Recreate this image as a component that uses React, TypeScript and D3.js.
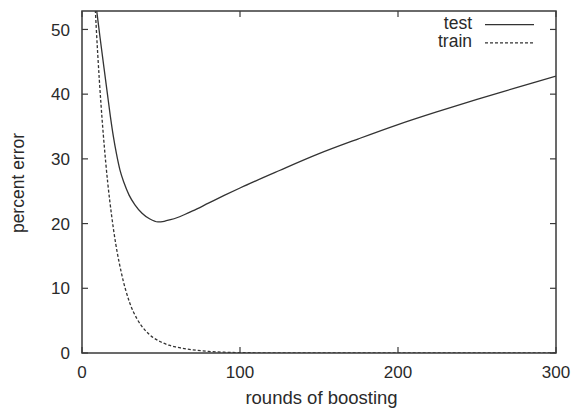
import React from "react";
import * as d3 from "d3";

// Boosting error curves: test and training error vs. number of rounds
const testRounds = [8, 9.3, 11.4, 13.9, 16.1, 18, 19.9, 21.8, 24, 26.6, 29.8, 33.5, 38, 43, 48, 52, 56, 60, 65, 70, 80, 90, 100, 125, 150, 175, 200, 225, 250, 275, 300];
const testError = [55.3, 52.9, 48.8, 44.1, 40.0, 36.5, 33.4, 30.8, 28.3, 26.3, 24.4, 22.9, 21.6, 20.7, 20.25, 20.35, 20.6, 20.9, 21.4, 21.95, 23.15, 24.35, 25.5, 28.2, 30.8, 33.1, 35.3, 37.3, 39.2, 41.0, 42.8];

const trainRounds = [5, 8, 10, 12, 15, 20, 25, 30, 35, 40, 45, 50, 55, 60, 70, 80, 90, 100, 120, 150, 200, 250, 300];
const trainError = [70, 55, 46, 38.5, 29.5, 19, 12.3, 7.9, 5.2, 3.5, 2.4, 1.7, 1.2, 0.9, 0.5, 0.25, 0.12, 0.06, 0.02, 0.01, 0, 0, 0];

const xTicks = [0, 100, 200, 300];
const yTicks = [0, 10, 20, 30, 40, 50];

const seriesNames = ["test", "train"];

const W = 574;
const H = 408;
const M = { left: 82, right: 556, top: 11, bottom: 353 };
const FONT = "'Liberation Sans', Arial, Helvetica, sans-serif";
const AXIS = "#3a3a3a";
const TEXT = "#2a2a2a";

export default function App() {
  const x = d3.scaleLinear().domain([0, 300]).range([M.left, M.right]);
  const y = d3.scaleLinear().domain([0, 52.85]).range([M.bottom, M.top]);

  const line = d3
    .line<[number, number]>()
    .x((d) => x(d[0]))
    .y((d) => y(d[1]))
    .curve(d3.curveMonotoneX);

  const testPath = line(testRounds.map((r, i) => [r, testError[i]]) as [number, number][]) || "";
  const trainPath = line(trainRounds.map((r, i) => [r, trainError[i]]) as [number, number][]) || "";

  const tick = 6;
  const tickFs = 17;
  const labelFs = 17.5;

  return (
    <svg
      width={W}
      height={H}
      style={{ position: "absolute", left: 0, top: 0, background: "#fff" }}
      fontFamily={FONT}
    >
      <defs>
        <clipPath id="plot-area">
          <rect x={M.left} y={M.top} width={M.right - M.left} height={M.bottom - M.top} />
        </clipPath>
      </defs>

      {/* ticks, mirrored on all four sides, pointing inward */}
      {yTicks.map((t) => (
        <g key={"y" + t}>
          <line x1={M.left} x2={M.left + tick} y1={y(t)} y2={y(t)} stroke={AXIS} strokeWidth={1.2} />
          <line x1={M.right} x2={M.right - tick} y1={y(t)} y2={y(t)} stroke={AXIS} strokeWidth={1.2} />
          <text x={70} y={y(t)} dy="0.36em" textAnchor="end" fontSize={tickFs} fill={TEXT}>
            {t}
          </text>
        </g>
      ))}
      {xTicks.map((t) => (
        <g key={"x" + t}>
          <line x1={x(t)} x2={x(t)} y1={M.bottom} y2={M.bottom - tick} stroke={AXIS} strokeWidth={1.2} />
          <line x1={x(t)} x2={x(t)} y1={M.top} y2={M.top + tick} stroke={AXIS} strokeWidth={1.2} />
          <text x={x(t)} y={377.5} textAnchor="middle" fontSize={tickFs} fill={TEXT}>
            {t}
          </text>
        </g>
      ))}

      {/* curves */}
      <g clipPath="url(#plot-area)">
        <path d={testPath} fill="none" stroke="#333" strokeWidth={1.3} />
        <path d={trainPath} fill="none" stroke="#333" strokeWidth={1.3} strokeDasharray="3,2" />
      </g>

      {/* frame */}
      <rect
        x={M.left}
        y={M.top}
        width={M.right - M.left}
        height={M.bottom - M.top}
        fill="none"
        stroke={AXIS}
        strokeWidth={1.5}
      />

      {/* legend */}
      {seriesNames.map((name, i) => {
        const ly = 24.6 + i * 18.2;
        return (
          <g key={name}>
            <text x={472} y={ly + 4} textAnchor="end" fontSize={labelFs} fill={TEXT}>
              {name}
            </text>
            <line
              x1={485}
              x2={534}
              y1={ly}
              y2={ly}
              stroke="#333"
              strokeWidth={1.3}
              strokeDasharray={i === 1 ? "3,2" : undefined}
            />
          </g>
        );
      })}

      {/* axis titles */}
      <text x={321.5} y={404} textAnchor="middle" fontSize={18.5} fill={TEXT}>
        rounds of boosting
      </text>
      <text
        transform={`translate(24, 183) rotate(-90)`}
        textAnchor="middle"
        fontSize={labelFs}
        fill={TEXT}
      >
        percent error
      </text>
    </svg>
  );
}
